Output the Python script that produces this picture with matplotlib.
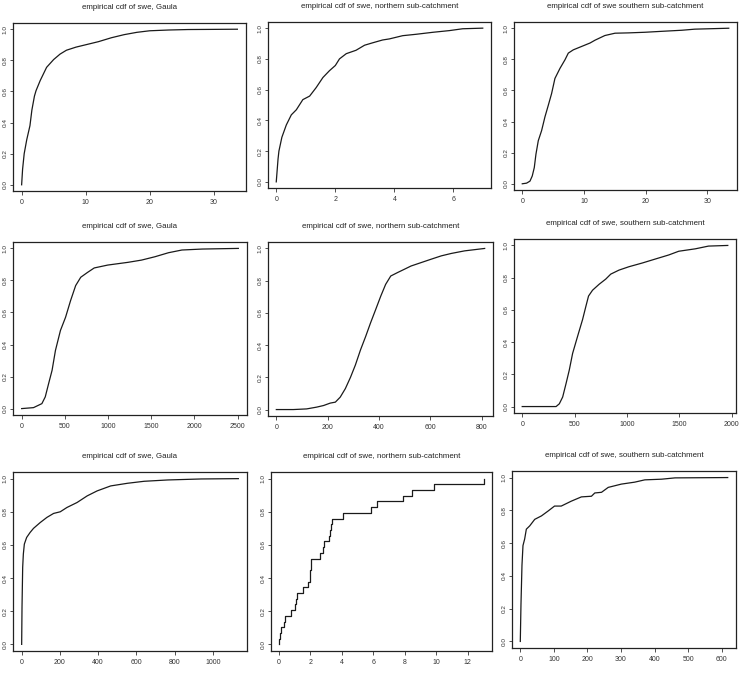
import numpy as np
import matplotlib
matplotlib.use("Agg")
import matplotlib.pyplot as plt
from matplotlib import font_manager

avail = {f.name for f in font_manager.fontManager.ttflist}
fams = [f for f in ["Liberation Sans Narrow", "Liberation Sans", "DejaVu Sans"] if f in avail]
plt.rcParams['font.family'] = fams

# ---------------- data ----------------
titles = [
    "empirical cdf of swe, Gaula",
    "empirical cdf of swe, northern sub-catchment",
    "empirical cdf of swe southern sub-catchment",
    "empirical cdf of swe, Gaula",
    "empirical cdf of swe, northern sub-catchment",
    "empirical cdf of swe, southern sub-catchment",
    "empirical cdf of swe, Gaula",
    "empirical cdf of swe, northern sub-catchment",
    "empirical cdf of swe, southern sub-catchment",
]

p1_x = [0, 0.15, 0.4, 0.8, 1.3, 1.6, 2.0, 2.25, 2.9, 3.9, 5.0, 6.0, 7.0, 8.5, 10, 12, 14, 16, 18, 20, 23, 26, 30, 33.7]
p1_F = [0, 0.10, 0.20, 0.29, 0.38, 0.48, 0.57, 0.605, 0.67, 0.755, 0.805, 0.84, 0.865, 0.885, 0.90, 0.92, 0.945, 0.965, 0.98, 0.99, 0.995, 0.998, 0.999, 1.0]

p2_x = [0, 0.06, 0.09, 0.19, 0.34, 0.51, 0.68, 0.9, 1.13, 1.35, 1.58, 1.8, 2.0, 2.14, 2.37, 2.7, 2.99, 3.27, 3.6, 3.83, 4.28, 4.73, 5.3, 5.86, 6.31, 6.99]
p2_F = [0, 0.148, 0.20, 0.29, 0.37, 0.436, 0.469, 0.535, 0.558, 0.613, 0.679, 0.723, 0.757, 0.80, 0.834, 0.856, 0.889, 0.905, 0.923, 0.93, 0.951, 0.96, 0.973, 0.984, 0.996, 1.0]

p3_x = [0, 0.7, 1.25, 1.62, 1.95, 2.22, 2.6, 3.14, 3.68, 4.22, 4.76, 5.3, 6.12, 6.93, 7.47, 8.28, 9.64, 11.0, 11.8, 13.4, 15.05, 17.2, 19.9, 22.6, 25.9, 28.0, 33.5]
p3_F = [0, 0.004, 0.017, 0.05, 0.104, 0.19, 0.277, 0.342, 0.43, 0.504, 0.58, 0.677, 0.742, 0.797, 0.84, 0.861, 0.883, 0.905, 0.923, 0.953, 0.968, 0.97, 0.974, 0.98, 0.987, 0.994, 1.0]

p4_x = [0, 137, 234, 273, 312, 352, 391, 449, 508, 566, 625, 684, 762, 840, 996, 1230, 1387, 1543, 1699, 1855, 2090, 2508]
p4_F = [0, 0.006, 0.031, 0.073, 0.156, 0.239, 0.363, 0.488, 0.57, 0.674, 0.768, 0.82, 0.85, 0.878, 0.896, 0.913, 0.927, 0.948, 0.973, 0.99, 0.996, 1.0]

p5_x = [0, 66, 118, 157, 184, 210, 230, 249, 269, 289, 308, 328, 348, 367, 387, 407, 426, 446, 472, 498, 525, 564, 603, 643, 682, 734, 812]
p5_F = [0, 0, 0.004, 0.015, 0.025, 0.04, 0.046, 0.077, 0.13, 0.20, 0.276, 0.37, 0.453, 0.537, 0.62, 0.704, 0.777, 0.829, 0.85, 0.87, 0.891, 0.912, 0.933, 0.954, 0.969, 0.985, 1.0]

p6_x = [0, 323, 354, 386, 418, 449, 481, 528, 576, 608, 633, 671, 734, 797, 845, 924, 1019, 1146, 1272, 1399, 1494, 1652, 1778, 1962]
p6_F = [0, 0, 0.017, 0.059, 0.142, 0.226, 0.33, 0.435, 0.54, 0.623, 0.686, 0.722, 0.759, 0.791, 0.822, 0.847, 0.868, 0.891, 0.916, 0.941, 0.964, 0.979, 0.996, 1.0]

p7_x = [0, 1.8, 5.3, 8.8, 14, 26, 44, 62, 97, 132, 167, 202, 237, 290, 343, 395, 466, 554, 641, 765, 940, 1134]
p7_F = [0, 0.224, 0.465, 0.545, 0.605, 0.645, 0.675, 0.70, 0.735, 0.766, 0.79, 0.80, 0.826, 0.856, 0.896, 0.926, 0.956, 0.972, 0.984, 0.992, 0.998, 1.0]

# panel 8: individual sample values (step ECDF, n = 29)
p8_values = [0.02, 0.08, 0.15, 0.33, 0.38, 0.78, 1.05, 1.10, 1.16, 1.52, 1.84, 1.97, 2.00, 2.02, 2.05,
             2.64, 2.81, 2.85, 3.16, 3.22, 3.30, 3.40, 4.07, 5.88, 6.24, 7.88, 8.45, 9.84, 13.03]

p9_x = [0, 2, 5, 8, 13, 18, 28, 43, 63, 83, 102, 122, 152, 182, 212, 222, 242, 262, 301, 341, 371, 421, 461, 618]
p9_F = [0, 0.224, 0.465, 0.585, 0.625, 0.685, 0.705, 0.745, 0.766, 0.796, 0.826, 0.826, 0.856, 0.882, 0.886, 0.906, 0.91, 0.94, 0.96, 0.972, 0.986, 0.99, 0.998, 1.0]

xticks = [
    [0, 10, 20, 30], [0, 2, 4, 6], [0, 10, 20, 30],
    [0, 500, 1000, 1500, 2000, 2500], [0, 200, 400, 600, 800], [0, 500, 1000, 1500, 2000],
    [0, 200, 400, 600, 800, 1000], [0, 2, 4, 6, 8, 10, 12], [0, 100, 200, 300, 400, 500, 600],
]
yticks = [0.0, 0.2, 0.4, 0.6, 0.8, 1.0]

# axes boxes in pixels: (left, top, right, bottom)
boxes = [
    (13, 23, 246, 191), (268, 22, 491, 188), (514, 22, 737, 190),
    (13, 242, 247, 415), (268, 242, 493, 416), (514, 239, 736, 413),
    (13, 472, 247, 651), (271, 472, 492, 651), (512, 471, 736, 648),
]

W, H = 739, 683
fig = plt.figure(figsize=(W / 100, H / 100), dpi=100)
fig.patch.set_facecolor("white")

curves = [(p1_x, p1_F), (p2_x, p2_F), (p3_x, p3_F), (p4_x, p4_F), (p5_x, p5_F),
          (p6_x, p6_F), (p7_x, p7_F), None, (p9_x, p9_F)]

lc = "#1a1a1a"
for i, (l, t, r, b) in enumerate(boxes):
    ax = fig.add_axes([l / W, (H - b) / H, (r - l) / W, (b - t) / H])
    if curves[i] is not None:
        x, F = curves[i]
        ax.plot(x, F, color=lc, lw=0.9)
    else:
        v = np.sort(np.array(p8_values))
        n = len(v)
        ys = np.arange(1, n + 1) / n
        xs = np.concatenate([[v[0]], v])
        yy = np.concatenate([[0.0], ys])
        ax.plot(xs, yy, color=lc, lw=0.9, drawstyle="steps-post")
    ax.margins(x=0.04, y=0.04)
    ax.set_xticks(xticks[i])
    ax.set_yticks(yticks)
    ax.set_yticklabels([f"{y:.1f}" for y in yticks], rotation=90, va="center")
    ax.set_xticklabels([str(v) for v in xticks[i]])
    ax.tick_params(axis="x", direction="out", length=3, width=0.6, labelsize=5,
                   colors="#333333", pad=2.5)
    ax.tick_params(axis="y", direction="out", length=2.5, width=0.6, labelsize=4.6,
                   colors="#333333", pad=1.2)
    for s in ax.spines.values():
        s.set_linewidth(0.9)
        s.set_color("#222222")
    ax.set_title(titles[i], fontsize=5.7, pad=10, color="#222222")

fig.savefig("out.png", dpi=100, facecolor="white")
